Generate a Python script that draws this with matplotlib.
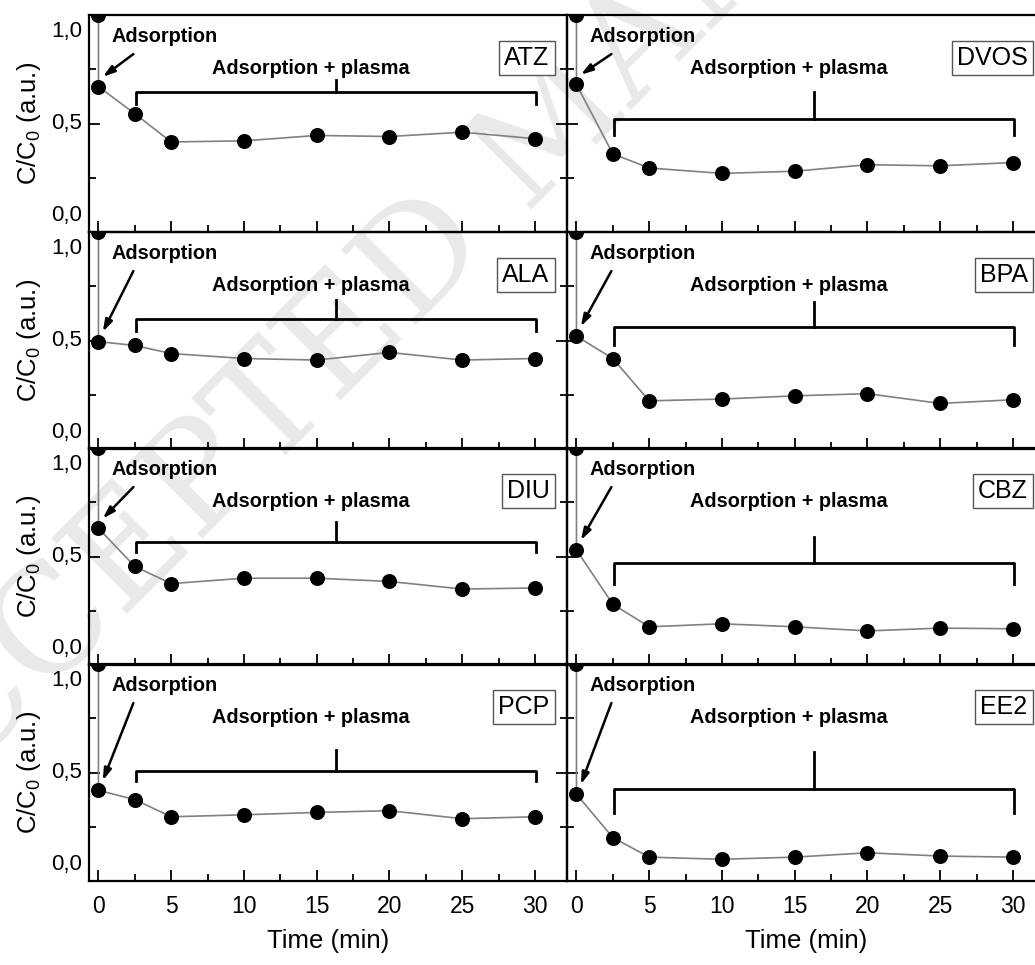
import numpy as np
import matplotlib.pyplot as plt

plt.rcParams['font.family'] = ['Liberation Sans Narrow', 'Liberation Sans', 'DejaVu Sans']

# time axis: first point is the initial C/C0 = 1, second is after adsorption
times = [0, 0, 2.5, 5, 10, 15, 20, 25, 30]

atz = [1.0, 0.67, 0.545, 0.415, 0.42, 0.445, 0.44, 0.46, 0.43]
dvos = [1.0, 0.68, 0.36, 0.295, 0.27, 0.28, 0.31, 0.305, 0.32]
ala = [1.0, 0.495, 0.477, 0.44, 0.417, 0.41, 0.445, 0.41, 0.417]
bpa = [1.0, 0.52, 0.417, 0.222, 0.23, 0.245, 0.255, 0.21, 0.227]
diu = [1.0, 0.63, 0.454, 0.375, 0.40, 0.40, 0.385, 0.35, 0.355]
cbz = [1.0, 0.53, 0.28, 0.176, 0.19, 0.176, 0.157, 0.17, 0.167]
pcp = [1.0, 0.418, 0.375, 0.296, 0.305, 0.316, 0.324, 0.287, 0.296]
ee2 = [1.0, 0.40, 0.20, 0.11, 0.10, 0.11, 0.13, 0.115, 0.11]

names = ['ATZ', 'DVOS', 'ALA', 'BPA', 'DIU', 'CBZ', 'PCP', 'EE2']
series = [atz, dvos, ala, bpa, diu, cbz, pcp, ee2]

ytick_labels = ['0,0', '0,5', '1,0']
xticks = [0, 5, 10, 15, 20, 25, 30]

# bracket (level, end, spike top) for each panel
brackets = [(0.645, 0.59, 0.70), (0.52, 0.445, 0.645),
            (0.60, 0.546, 0.685), (0.56, 0.477, 0.678),
            (0.565, 0.52, 0.66), (0.47, 0.375, 0.59),
            (0.505, 0.46, 0.605), (0.426, 0.315, 0.593)]

W, H = 1035, 965
fig = plt.figure(figsize=(W / 100, H / 100), dpi=100)

# faint watermark behind the panels
fig.text(-0.106, 0.118, 'ACCEPTED MANUSCRIPT', rotation=45, rotation_mode='anchor',
         ha='left', va='baseline', fontsize=105, color='#e9e9e9',
         family='DejaVu Serif', zorder=-1)

col_x = [89, 567]
ax_w = 478
row_top = [15, 232, 448, 664]
ax_h = 217

for i, name in enumerate(names):
    r, c = divmod(i, 2)
    ax = fig.add_axes([col_x[c] / W, 1 - (row_top[r] + ax_h) / H, ax_w / W, ax_h / H])
    ax.set_facecolor('none')
    y = series[i]
    ax.plot(times, y, color='#808080', lw=1.2, marker='o', ms=9.8,
            mfc='black', mec='black', zorder=3)
    ax.set_xlim(-0.65, 32.2)
    ax.set_ylim(0, 1.0)

    for s in ax.spines.values():
        s.set_linewidth(1.6)

    ax.set_xticks(xticks)
    ax.set_xticks(np.arange(2.5, 30, 5), minor=True)
    ax.set_yticks([0, 0.5, 1.0])
    ax.set_yticks([0.25, 0.75], minor=True)
    ax.tick_params(which='both', direction='in', width=1.3, top=False, right=(c == 0))
    ax.tick_params(which='major', length=8)
    ax.tick_params(which='minor', length=5)
    ax.tick_params(axis='y', labelleft=False)
    if r == 3:
        ax.tick_params(axis='x', labelsize=16.5, pad=10)
        ax.set_xlabel('Time (min)', fontsize=18.5, labelpad=8)
    else:
        ax.tick_params(axis='x', labelbottom=False)

    if c == 0:
        for lab, yy in zip(ytick_labels, [0.075, 0.5, 0.925]):
            ax.text(-0.014, yy, lab, transform=ax.get_yaxis_transform(),
                    ha='right', va='center', fontsize=16)
        ax.set_ylabel('C/C$_\\mathregular{0}$ (a.u.)', fontsize=18.5)
        ax.yaxis.set_label_coords(-0.097, 0.5)

    # annotations
    ax.text(0.9, 0.90, 'Adsorption', fontweight='bold', fontsize=14.3, va='center')
    ax.annotate('', xy=(times[1] + 0.3, y[1] + 0.045), xytext=(2.4, 0.82),
                arrowprops=dict(arrowstyle='-|>,head_length=0.7,head_width=0.22',
                                color='black', lw=1.8, shrinkA=0, shrinkB=0))
    ax.text(7.8, 0.755, 'Adsorption + plasma', fontweight='bold', fontsize=14.3,
            ha='left', va='center')
    lvl, end, top = brackets[i]
    x0, x1 = times[2] + 0.1, times[-1] + 0.1
    xm = (x0 + x1) / 2
    ax.plot([x0, x0, x1, x1], [end, lvl, lvl, end], color='black', lw=2)
    ax.plot([xm, xm], [lvl, top], color='black', lw=2)
    ax.text(31.0, 0.80, name, ha='right', va='center', fontsize=18,
            bbox=dict(boxstyle='square,pad=0.2', fc='white', ec='#555555', lw=1))

fig.savefig('out.png', dpi=100)
